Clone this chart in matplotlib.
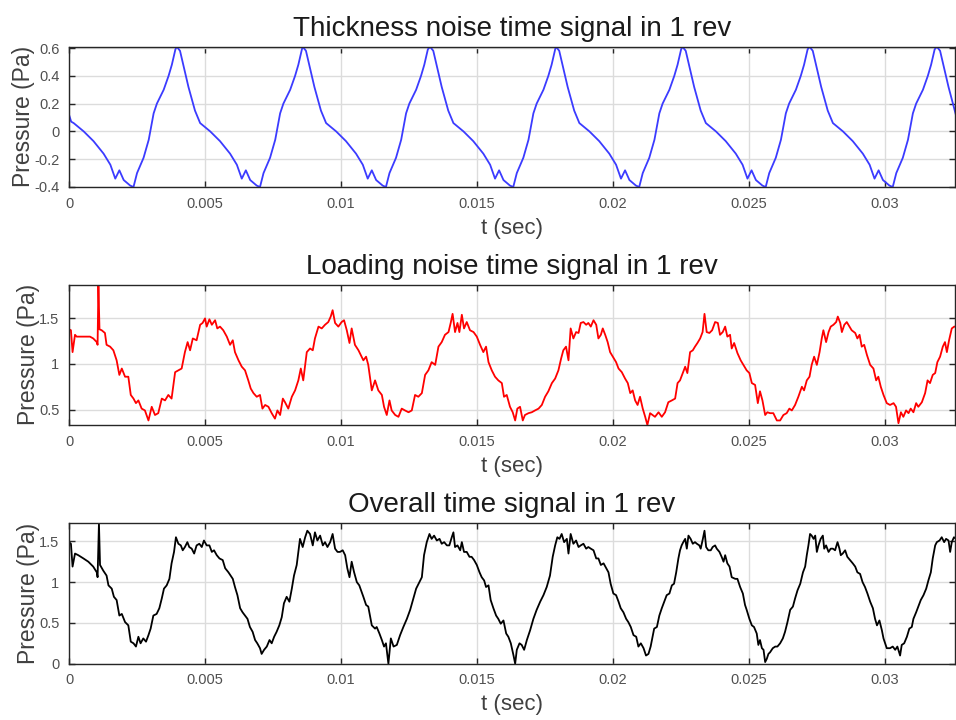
import numpy as np
import matplotlib
matplotlib.use("Agg")
import matplotlib.pyplot as plt
from matplotlib.ticker import FormatStrFormatter

plt.rcParams['font.family'] = ['Liberation Sans', 'DejaVu Sans']
plt.rcParams['axes.unicode_minus'] = False

# time axis end (s) and tick positions
t_end = 0.03257
x_ticks = [0, 0.005, 0.01, 0.015, 0.02, 0.025, 0.03]

# thickness noise (t in ms, pressure in Pa)
thick_t = [0.00, 0.08, 0.17, 0.54, 0.90, 1.27, 1.52, 1.70, 1.85, 2.01, 2.25, 2.37, 2.50, 2.74, 2.93, 3.11, 3.23, 3.48, 3.66, 3.78, 3.91,
           3.96, 4.08, 4.21, 4.39, 4.63, 4.82, 5.19, 5.55, 5.92, 6.17, 6.35, 6.50, 6.66, 6.90, 7.02, 7.15, 7.39, 7.58, 7.76, 7.88, 8.13, 8.31, 8.43, 8.56,
           8.59, 8.71, 8.84, 9.02, 9.26, 9.45, 9.82, 10.18, 10.55, 10.80, 10.98, 11.13, 11.29, 11.53, 11.65, 11.78, 12.02, 12.21, 12.39, 12.51, 12.76, 12.94, 13.06, 13.19,
           13.27, 13.39, 13.52, 13.70, 13.94, 14.13, 14.50, 14.86, 15.23, 15.48, 15.66, 15.81, 15.97, 16.21, 16.33, 16.46, 16.70, 16.89, 17.07, 17.19, 17.44, 17.62, 17.74, 17.87,
           17.90, 18.02, 18.15, 18.33, 18.57, 18.76, 19.13, 19.49, 19.86, 20.11, 20.29, 20.44, 20.60, 20.84, 20.96, 21.09, 21.33, 21.52, 21.70, 21.82, 22.07, 22.25, 22.37, 22.50,
           22.55, 22.67, 22.80, 22.98, 23.22, 23.41, 23.78, 24.14, 24.51, 24.76, 24.94, 25.09, 25.25, 25.49, 25.61, 25.74, 25.98, 26.17, 26.35, 26.47, 26.72, 26.90, 27.02, 27.15,
           27.22, 27.34, 27.47, 27.65, 27.89, 28.08, 28.45, 28.81, 29.18, 29.43, 29.61, 29.76, 29.92, 30.16, 30.28, 30.41, 30.65, 30.84, 31.02, 31.14, 31.39, 31.57, 31.69, 31.82,
           31.90, 32.02, 32.15, 32.33, 32.60]
thick_p = [0.12, 0.07, 0.06, 0.00, -0.07, -0.16, -0.24, -0.34, -0.28, -0.35, -0.39, -0.40, -0.30, -0.19, -0.06, 0.13, 0.20, 0.30, 0.40, 0.48, 0.59,
           0.61, 0.58, 0.47, 0.32, 0.15, 0.06, 0.00, -0.07, -0.16, -0.24, -0.34, -0.28, -0.35, -0.39, -0.40, -0.30, -0.19, -0.06, 0.13, 0.20, 0.30, 0.40, 0.48, 0.59,
           0.61, 0.58, 0.47, 0.32, 0.15, 0.06, 0.00, -0.07, -0.16, -0.24, -0.34, -0.28, -0.35, -0.39, -0.40, -0.30, -0.19, -0.06, 0.13, 0.20, 0.30, 0.40, 0.48, 0.59,
           0.61, 0.58, 0.47, 0.32, 0.15, 0.06, 0.00, -0.07, -0.16, -0.24, -0.34, -0.28, -0.35, -0.39, -0.40, -0.30, -0.19, -0.06, 0.13, 0.20, 0.30, 0.40, 0.48, 0.59,
           0.61, 0.58, 0.47, 0.32, 0.15, 0.06, 0.00, -0.07, -0.16, -0.24, -0.34, -0.28, -0.35, -0.39, -0.40, -0.30, -0.19, -0.06, 0.13, 0.20, 0.30, 0.40, 0.48, 0.59,
           0.61, 0.58, 0.47, 0.32, 0.15, 0.06, 0.00, -0.07, -0.16, -0.24, -0.34, -0.28, -0.35, -0.39, -0.40, -0.30, -0.19, -0.06, 0.13, 0.20, 0.30, 0.40, 0.48, 0.59,
           0.61, 0.58, 0.47, 0.32, 0.15, 0.06, 0.00, -0.07, -0.16, -0.24, -0.34, -0.28, -0.35, -0.39, -0.40, -0.30, -0.19, -0.06, 0.13, 0.20, 0.30, 0.40, 0.48, 0.59,
           0.61, 0.58, 0.47, 0.32, 0.12]

# loading noise (t in ms, pressure in Pa)
load_t = [0.00, 0.07, 0.13, 0.22, 0.28, 0.40, 0.77, 0.89, 1.02, 1.05, 1.08, 1.12, 1.20, 1.32, 1.38, 1.51, 1.63, 1.75, 1.85, 1.94,
          2.06, 2.18, 2.27, 2.37, 2.46, 2.55, 2.67, 2.79, 2.92, 3.04, 3.16, 3.28, 3.41, 3.53, 3.65, 3.77, 3.90, 4.02, 4.14, 4.26,
          4.36, 4.45, 4.55, 4.69, 4.82, 4.91, 5.00, 5.06, 5.16, 5.25, 5.37, 5.45, 5.55, 5.67, 5.80, 5.92, 6.02, 6.10, 6.23, 6.35,
          6.47, 6.59, 6.68, 6.78, 6.90, 7.02, 7.11, 7.21, 7.33, 7.45, 7.57, 7.66, 7.76, 7.86, 7.94, 8.06, 8.19, 8.31, 8.43, 8.52,
          8.61, 8.74, 8.86, 8.96, 9.04, 9.17, 9.29, 9.41, 9.53, 9.62, 9.69, 9.78, 9.90, 10.02, 10.11, 10.21, 10.31, 10.39, 10.51, 10.64,
          10.82, 10.92, 11.00, 11.13, 11.25, 11.37, 11.50, 11.58, 11.68, 11.78, 11.86, 11.99, 12.11, 12.23, 12.35, 12.48, 12.60, 12.72, 12.84, 12.97,
          13.09, 13.21, 13.33, 13.46, 13.58, 13.70, 13.82, 13.95, 14.03, 14.10, 14.19, 14.28, 14.35, 14.44, 14.52, 14.62, 14.74, 14.87, 14.99, 15.11,
          15.23, 15.33, 15.42, 15.54, 15.66, 15.78, 15.91, 15.99, 16.09, 16.21, 16.31, 16.40, 16.48, 16.58, 16.68, 16.76, 16.89, 17.01, 17.13, 17.26,
          17.38, 17.50, 17.62, 17.75, 17.87, 17.99, 18.09, 18.17, 18.27, 18.36, 18.44, 18.54, 18.64, 18.73, 18.81, 18.91, 19.01, 19.09, 19.18, 19.28,
          19.38, 19.46, 19.55, 19.62, 19.71, 19.80, 19.89, 19.99, 20.11, 20.20, 20.32, 20.44, 20.54, 20.63, 20.72, 20.81, 20.90, 20.99, 21.09, 21.18,
          21.26, 21.36, 21.54, 21.67, 21.79, 21.91, 22.03, 22.16, 22.28, 22.37, 22.46, 22.56, 22.65, 22.73, 22.83, 22.93, 23.01, 23.10, 23.20, 23.29,
          23.36, 23.44, 23.54, 23.64, 23.75, 23.85, 23.93, 24.03, 24.12, 24.20, 24.30, 24.36, 24.45, 24.57, 24.69, 24.79, 24.91, 25.01, 25.10, 25.22,
          25.32, 25.40, 25.49, 25.59, 25.67, 25.77, 25.89, 26.02, 26.14, 26.26, 26.38, 26.48, 26.57, 26.69, 26.81, 26.94, 27.02, 27.12, 27.22, 27.30,
          27.39, 27.49, 27.59, 27.67, 27.73, 27.83, 27.92, 28.00, 28.10, 28.20, 28.26, 28.35, 28.41, 28.50, 28.59, 28.69, 28.77, 28.90, 28.98, 29.06,
          29.14, 29.23, 29.33, 29.45, 29.57, 29.67, 29.75, 29.84, 29.94, 30.06, 30.18, 30.31, 30.40, 30.49, 30.58, 30.67, 30.77, 30.86, 30.94, 31.04,
          31.14, 31.22, 31.35, 31.47, 31.56, 31.65, 31.75, 31.84, 31.92, 32.02, 32.12, 32.20, 32.27, 32.35, 32.45, 32.54, 32.61]
load_p = [1.38, 1.37, 1.13, 1.32, 1.30, 1.30, 1.30, 1.28, 1.24, 1.21, 1.87, 1.38, 1.37, 1.34, 1.21, 1.19, 1.15, 1.04, 0.88, 0.95,
          0.86, 0.86, 0.66, 0.62, 0.57, 0.60, 0.51, 0.49, 0.38, 0.53, 0.44, 0.46, 0.62, 0.60, 0.66, 0.62, 0.91, 0.93, 0.95, 1.13,
          1.24, 1.15, 1.28, 1.26, 1.43, 1.45, 1.50, 1.41, 1.49, 1.43, 1.48, 1.39, 1.41, 1.37, 1.30, 1.21, 1.26, 1.13, 1.04, 0.97,
          0.93, 0.82, 0.73, 0.68, 0.64, 0.66, 0.51, 0.55, 0.53, 0.46, 0.40, 0.49, 0.44, 0.62, 0.58, 0.51, 0.64, 0.71, 0.82, 0.95,
          0.82, 1.13, 1.17, 1.15, 1.28, 1.41, 1.39, 1.43, 1.46, 1.52, 1.59, 1.45, 1.41, 1.46, 1.48, 1.37, 1.23, 1.39, 1.21, 1.15,
          1.04, 1.08, 0.99, 0.71, 0.82, 0.71, 0.66, 0.53, 0.44, 0.60, 0.49, 0.44, 0.42, 0.51, 0.49, 0.47, 0.49, 0.66, 0.64, 0.68,
          0.88, 0.93, 1.02, 0.99, 1.19, 1.24, 1.32, 1.35, 1.45, 1.55, 1.35, 1.45, 1.35, 1.54, 1.39, 1.46, 1.37, 1.35, 1.30, 1.21,
          1.13, 1.19, 1.02, 0.93, 0.86, 0.82, 0.79, 0.64, 0.66, 0.53, 0.47, 0.38, 0.51, 0.53, 0.38, 0.44, 0.46, 0.47, 0.49, 0.51,
          0.55, 0.64, 0.70, 0.79, 0.84, 0.93, 1.06, 1.15, 1.19, 1.04, 1.39, 1.28, 1.35, 1.34, 1.45, 1.46, 1.43, 1.45, 1.41, 1.48,
          1.43, 1.28, 1.32, 1.39, 1.32, 1.24, 1.13, 1.08, 1.02, 0.95, 0.91, 0.84, 0.79, 0.68, 0.71, 0.60, 0.55, 0.64, 0.51, 0.42,
          0.33, 0.46, 0.42, 0.47, 0.42, 0.47, 0.58, 0.60, 0.62, 0.79, 0.82, 0.90, 0.97, 0.90, 1.13, 1.15, 1.19, 1.23, 1.28, 1.35,
          1.55, 1.35, 1.34, 1.37, 1.46, 1.45, 1.32, 1.35, 1.41, 1.30, 1.32, 1.17, 1.23, 1.12, 1.04, 0.99, 0.93, 0.90, 0.79, 0.77,
          0.57, 0.70, 0.60, 0.44, 0.47, 0.46, 0.46, 0.38, 0.38, 0.44, 0.46, 0.51, 0.49, 0.55, 0.64, 0.75, 0.71, 0.82, 0.86, 0.99,
          1.08, 0.99, 1.13, 1.28, 1.37, 1.24, 1.35, 1.41, 1.43, 1.46, 1.52, 1.45, 1.35, 1.43, 1.46, 1.41, 1.37, 1.34, 1.28, 1.32,
          1.19, 1.21, 1.10, 0.99, 0.95, 0.82, 0.86, 0.75, 0.66, 0.57, 0.55, 0.57, 0.53, 0.35, 0.47, 0.42, 0.49, 0.46, 0.51, 0.47,
          0.57, 0.53, 0.58, 0.68, 0.82, 0.79, 0.88, 0.90, 1.02, 1.08, 1.19, 1.24, 1.13, 1.26, 1.39, 1.41, 1.41]

# overall signal (t in ms, pressure in Pa)
total_t = [0.00, 0.07, 0.13, 0.22, 0.34, 0.53, 0.71, 0.89, 1.02, 1.05, 1.10, 1.14, 1.26, 1.38, 1.45, 1.57, 1.65, 1.75, 1.85, 1.94,
           2.06, 2.18, 2.27, 2.37, 2.46, 2.55, 2.63, 2.73, 2.83, 2.92, 3.00, 3.10, 3.22, 3.32, 3.41, 3.49, 3.59, 3.69, 3.77, 3.86,
           3.93, 4.02, 4.11, 4.18, 4.26, 4.35, 4.42, 4.51, 4.60, 4.69, 4.79, 4.88, 4.96, 5.06, 5.16, 5.25, 5.33, 5.43, 5.53, 5.65,
           5.74, 5.86, 5.94, 6.02, 6.10, 6.19, 6.29, 6.38, 6.47, 6.56, 6.65, 6.75, 6.84, 6.92, 7.02, 7.08, 7.17, 7.27, 7.37, 7.45,
           7.54, 7.63, 7.73, 7.82, 7.90, 8.00, 8.10, 8.19, 8.27, 8.37, 8.43, 8.49, 8.59, 8.68, 8.76, 8.86, 8.96, 9.04, 9.13, 9.23,
           9.33, 9.41, 9.50, 9.60, 9.69, 9.78, 9.87, 9.96, 10.06, 10.15, 10.23, 10.31, 10.39, 10.48, 10.58, 10.67,
           10.82, 10.92, 11.00, 11.13, 11.25, 11.31, 11.41, 11.50, 11.58, 11.65, 11.74, 11.83, 11.93, 12.05, 12.17, 12.29, 12.42, 12.54,
           12.66, 12.76, 12.88, 12.97, 13.05, 13.15, 13.25, 13.33, 13.42, 13.52, 13.62, 13.70, 13.79, 13.89, 13.98, 14.07, 14.13, 14.19,
           14.28, 14.38, 14.44, 14.52, 14.62, 14.72, 14.80, 14.89, 14.99, 15.09, 15.17, 15.26, 15.33, 15.42, 15.50, 15.60, 15.70, 15.78,
           15.87, 15.97, 16.07, 16.15, 16.24, 16.34, 16.40, 16.46, 16.56, 16.64, 16.73, 16.83, 16.95, 17.07, 17.19, 17.32, 17.44, 17.56,
           17.68, 17.78, 17.87, 17.95, 18.03, 18.11, 18.20, 18.30, 18.36, 18.44, 18.54, 18.64, 18.73, 18.81, 18.91, 19.01, 19.09, 19.18,
           19.28, 19.38, 19.46, 19.55, 19.65, 19.75, 19.83, 19.91, 20.01, 20.11, 20.20, 20.28, 20.38, 20.48, 20.56, 20.65, 20.75, 20.85,
           20.93, 21.02, 21.12, 21.21, 21.30, 21.38,
           21.51, 21.61, 21.70, 21.79, 21.88, 21.97, 22.07, 22.16, 22.24, 22.32, 22.40, 22.46, 22.52, 22.58, 22.65, 22.71, 22.77, 22.85,
           22.93, 23.01, 23.08, 23.17, 23.22, 23.30, 23.36, 23.42, 23.50, 23.59, 23.66, 23.75, 23.81, 23.91, 23.99, 24.06, 24.12, 24.20,
           24.28, 24.36, 24.49, 24.57, 24.67, 24.77, 24.85, 24.91, 25.01, 25.10, 25.18, 25.28, 25.34, 25.40, 25.47, 25.53, 25.59, 25.65,
           25.71, 25.77, 25.87, 25.96, 26.04, 26.14, 26.24, 26.32, 26.41, 26.51, 26.61, 26.69, 26.78, 26.88, 26.98, 27.06, 27.12, 27.18,
           27.24, 27.30, 27.37, 27.43, 27.49, 27.55, 27.63, 27.71, 27.76, 27.83, 27.92, 28.00, 28.08, 28.16, 28.25, 28.32, 28.37, 28.44,
           28.53, 28.61, 28.71, 28.81, 28.90, 28.98, 29.08, 29.17, 29.26, 29.35, 29.45, 29.55, 29.63, 29.70, 29.79, 29.88, 29.94, 30.06,
           30.18, 30.28, 30.37, 30.45, 30.55, 30.61, 30.70, 30.80, 30.89, 30.98, 31.04, 31.14, 31.22, 31.31, 31.41, 31.51, 31.59, 31.68,
           31.75, 31.84, 31.90, 32.00, 32.08, 32.17, 32.24, 32.33, 32.39, 32.45, 32.53, 32.61]
total_p = [1.49, 1.47, 1.19, 1.35, 1.33, 1.29, 1.25, 1.19, 1.12, 1.06, 1.72, 1.21, 1.14, 1.08, 0.96, 0.92, 0.82, 0.78, 0.59, 0.61,
           0.51, 0.47, 0.27, 0.25, 0.21, 0.33, 0.25, 0.31, 0.27, 0.35, 0.43, 0.59, 0.61, 0.68, 0.80, 0.92, 0.96, 1.04, 1.23, 1.37,
           1.55, 1.47, 1.45, 1.39, 1.43, 1.49, 1.43, 1.41, 1.35, 1.45, 1.47, 1.43, 1.51, 1.45, 1.45, 1.37, 1.39, 1.33, 1.29, 1.27,
           1.17, 1.12, 1.08, 1.04, 0.94, 0.84, 0.68, 0.63, 0.59, 0.55, 0.45, 0.39, 0.29, 0.25, 0.19, 0.12, 0.17, 0.21, 0.29, 0.25,
           0.33, 0.39, 0.47, 0.57, 0.74, 0.82, 0.76, 0.92, 1.08, 1.21, 1.37, 1.53, 1.43, 1.55, 1.63, 1.59, 1.45, 1.61, 1.51, 1.57,
           1.45, 1.49, 1.43, 1.49, 1.59, 1.41, 1.37, 1.37, 1.39, 1.33, 1.17, 1.06, 1.25, 1.12, 1.00, 0.96,
           0.82, 0.72, 0.70, 0.47, 0.43, 0.45, 0.37, 0.29, 0.21, 0.25, 0.00, 0.31, 0.21, 0.23, 0.35, 0.45, 0.55, 0.66,
           0.80, 0.92, 1.00, 1.06, 1.33, 1.49, 1.59, 1.53, 1.57, 1.51, 1.53, 1.47, 1.49, 1.45, 1.45, 1.55, 1.61, 1.43,
           1.45, 1.39, 1.49, 1.37, 1.37, 1.31, 1.31, 1.27, 1.21, 1.12, 1.06, 1.02, 0.94, 0.96, 0.78, 0.68, 0.59, 0.55,
           0.49, 0.53, 0.37, 0.33, 0.25, 0.10, 0.00, 0.17, 0.25, 0.23, 0.17, 0.29, 0.41, 0.55, 0.66, 0.76, 0.84, 0.94,
           1.08, 1.31, 1.45, 1.55, 1.53, 1.59, 1.49, 1.53, 1.35, 1.59, 1.47, 1.51, 1.43, 1.45, 1.47, 1.41, 1.43, 1.41,
           1.39, 1.29, 1.29, 1.21, 1.23, 1.17, 1.12, 0.98, 0.86, 0.84, 0.76, 0.68, 0.63, 0.55, 0.51, 0.45, 0.35, 0.33,
           0.21, 0.25, 0.19, 0.10, 0.12, 0.21,
           0.43, 0.45, 0.59, 0.68, 0.76, 0.84, 0.86, 0.96, 0.98, 1.12, 1.29, 1.39, 1.45, 1.49, 1.53, 1.41, 1.57, 1.53,
           1.47, 1.49, 1.47, 1.45, 1.41, 1.53, 1.63, 1.43, 1.39, 1.39, 1.43, 1.45, 1.41, 1.37, 1.31, 1.25, 1.33, 1.23,
           1.19, 1.06, 1.04, 1.04, 0.94, 0.86, 0.72, 0.66, 0.55, 0.47, 0.45, 0.37, 0.23, 0.29, 0.19, 0.17, 0.02, 0.06,
           0.12, 0.14, 0.19, 0.21, 0.21, 0.25, 0.31, 0.39, 0.51, 0.66, 0.70, 0.80, 0.90, 0.98, 1.12, 1.19, 1.33, 1.45,
           1.59, 1.57, 1.53, 1.57, 1.37, 1.45, 1.53, 1.57, 1.41, 1.45, 1.37, 1.41, 1.41, 1.39, 1.49, 1.41, 1.33, 1.35,
           1.39, 1.31, 1.27, 1.23, 1.19, 1.12, 1.10, 1.00, 0.94, 0.86, 0.76, 0.68, 0.55, 0.47, 0.53, 0.41, 0.31, 0.19,
           0.19, 0.21, 0.17, 0.21, 0.10, 0.23, 0.25, 0.33, 0.43, 0.45, 0.55, 0.63, 0.70, 0.78, 0.84, 0.92, 1.02, 1.12,
           1.29, 1.45, 1.49, 1.51, 1.55, 1.49, 1.53, 1.51, 1.37, 1.49, 1.55, 1.53]

panels = [
    ("Thickness noise time signal in 1 rev", thick_t, thick_p, "#3b3bff", [-0.4, -0.2, 0, 0.2, 0.4, 0.6], 0.7403),
    ("Loading noise time signal in 1 rev", load_t, load_p, "#ff0000", [0.5, 1, 1.5], 0.4097),
    ("Overall time signal in 1 rev", total_t, total_p, "#000000", [0, 0.5, 1, 1.5], 0.0782),
]

fig = plt.figure(figsize=(9.56, 7.2), dpi=100)

for title, t_ms, p, col, yt, bottom in panels:
    ax = fig.add_axes([0.0722, bottom, 0.9268, 0.1949])
    t = np.array(t_ms) / 1000.0
    ax.plot(t, p, color=col, linewidth=1.3)
    ax.set_xlim(0, t_end)
    ax.set_ylim(min(p), max(p))
    ax.set_xticks(x_ticks)
    ax.set_yticks(yt)
    ax.xaxis.set_major_formatter(FormatStrFormatter('%g'))
    ax.yaxis.set_major_formatter(FormatStrFormatter('%g'))
    ax.grid(True, color='#dcdcdc', linewidth=1.0)
    ax.set_axisbelow(True)
    ax.tick_params(direction='in', length=4, width=1.0, top=True, right=True,
                   colors='#262626', labelcolor='#505050', labelsize=10.5, pad=7)
    for s in ax.spines.values():
        s.set_color('#262626')
        s.set_linewidth(1.0)
    ax.set_title(title, fontsize=20, color='#1a1a1a', pad=8)
    ax.set_xlabel('t (sec)', fontsize=16, color='#404040', labelpad=5)
    ax.set_ylabel('Pressure (Pa)', fontsize=16.5, color='#404040', labelpad=-1)

fig.savefig('out.png', dpi=100)
